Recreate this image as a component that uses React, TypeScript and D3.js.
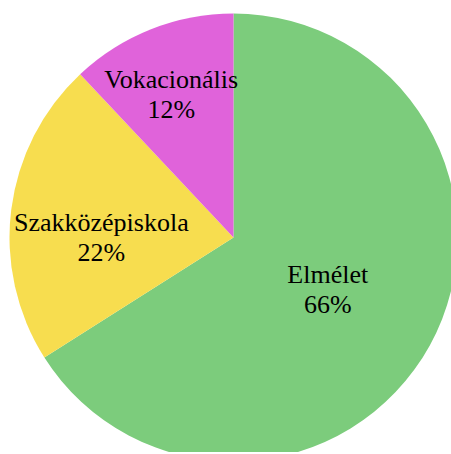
import React, { useEffect, useRef } from "react";
import * as d3 from "d3";

const categories = ["Elmélet", "Szakközépiskola", "Vokacionális"];
const shares = [66, 22, 12];
const colors = ["#7ccc7c", "#f7dd4f", "#e063da"];

// inside-label placement: fraction of radius and angle nudge (degrees)
const labelPlace: Record<string, { k: number; shift: number }> = {
  Elmélet: { k: 0.48, shift: 0 },
  Szakközépiskola: { k: 0.59, shift: -6.8 },
  Vokacionális: { k: 0.7, shift: -1.8 },
};

const App = () => {
  const svgRef = useRef<SVGSVGElement>(null);

  useEffect(() => {
    const width = 451;
    const height = 452;
    const cx = 233.5;
    const cy = 237.5;
    const radius = 224;

    const svg = d3.select(svgRef.current);
    svg.selectAll("*").remove();

    const data = categories.map((c, i) => ({ label: c, value: shares[i], color: colors[i] }));
    const total = d3.sum(shares);

    const pie = d3
      .pie<{ label: string; value: number; color: string }>()
      .sort(null)
      .value((d) => d.value);
    const arc = d3
      .arc<d3.PieArcDatum<{ label: string; value: number; color: string }>>()
      .innerRadius(0)
      .outerRadius(radius);

    const g = svg.append("g").attr("transform", `translate(${cx},${cy})`);
    const arcs = pie(data);

    g.selectAll("path")
      .data(arcs)
      .join("path")
      .attr("d", arc)
      .attr("fill", (d) => d.data.color);

    const label = g
      .selectAll("text")
      .data(arcs)
      .join("text")
      .attr("text-anchor", "middle")
      .attr("font-family", "'Liberation Serif', 'Times New Roman', serif")
      .attr("font-size", 26)
      .attr("fill", "#000")
      .attr("transform", (d) => {
        const p = labelPlace[d.data.label];
        const a = (d.startAngle + d.endAngle) / 2 + (p.shift * Math.PI) / 180;
        const r = p.k * radius;
        return `translate(${r * Math.sin(a)},${-r * Math.cos(a)})`;
      });

    label
      .append("tspan")
      .attr("x", 0)
      .attr("y", -6)
      .text((d) => d.data.label);
    label
      .append("tspan")
      .attr("x", 0)
      .attr("y", 24)
      .text((d) => `${Math.round((d.data.value / total) * 100)}%`);

    svg.attr("width", width).attr("height", height);
  }, []);

  return (
    <svg
      ref={svgRef}
      style={{ position: "fixed", left: 0, top: 0, background: "#fff" }}
    ></svg>
  );
};

export default App;
